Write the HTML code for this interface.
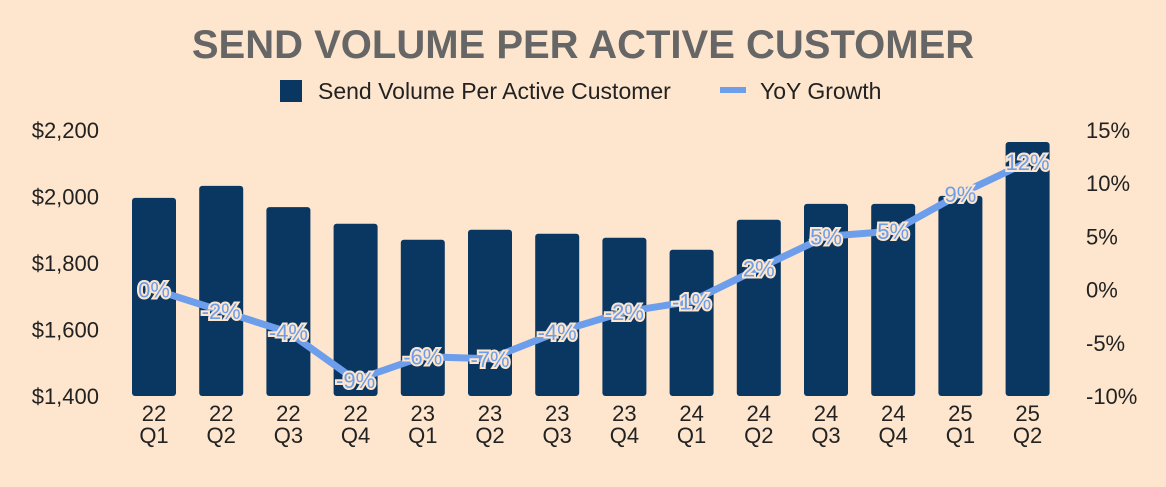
<!DOCTYPE html>
<html><head><meta charset="utf-8"><style>
body{margin:0;background:#fde6cd;font-family:"Liberation Sans",Arial,sans-serif;}
</style></head><body>
<svg width="1166" height="482" xmlns="http://www.w3.org/2000/svg" id="c">
<rect width="1166" height="482" fill="#fde6cd"/>
<text x="583" y="58" text-anchor="middle" font-size="40" font-weight="bold" fill="#666">SEND VOLUME PER ACTIVE CUSTOMER</text>
<g>
<rect x="280" y="80" width="22" height="22" fill="#0a3761"/>
<text x="318" y="99" font-size="23" fill="#222">Send Volume Per Active Customer</text>
<rect x="720" y="87" width="26" height="6" fill="#6d9eeb"/>
<text x="760" y="99" font-size="23" fill="#222">YoY Growth</text>
</g>
<g id="bars"></g><g id="axes"></g><g id="line"></g>
</svg>
<script>
const categories=["22 Q1","22 Q2","22 Q3","22 Q4","23 Q1","23 Q2","23 Q3","23 Q4","24 Q1","24 Q2","24 Q3","24 Q4","25 Q1","25 Q2"];
const volumes=[1996,2032,1968,1918,1870,1900,1888,1876,1840,1930,1978,1978,2002,2164];
const growth=[0,-2,-4,-8.5,-6.3,-6.5,-4,-2.1,-1.1,2,5,5.5,9,12];
const growthLabels=["0%","-2%","-4%","-9%","-6%","-7%","-4%","-2%","-1%","2%","5%","5%","9%","12%"];
const leftTicks=[1400,1600,1800,2000,2200];
const rightTicks=[-10,-5,0,5,10,15];
const NS="http://www.w3.org/2000/svg";
const yL=v=>396-(v-1400)*(266/800);
const yR=v=>396-(v+10)*(266/25);
const xC=i=>154+i*67.2;
function mk(t,a,p){const e=document.createElementNS(NS,t);for(const k in a)e.setAttribute(k,a[k]);p.appendChild(e);return e;}
const bars=document.getElementById('bars'),axes=document.getElementById('axes'),line=document.getElementById('line');
volumes.forEach((v,i)=>{const r=mk('rect',{x:xC(i)-22,y:yL(v),width:44,height:396-yL(v),rx:3,fill:'#0a3761'},bars);


const p=categories[i].split(' ');
const t=mk('text',{x:xC(i),y:421,'text-anchor':'middle','font-size':22,fill:'#222'},axes);


mk('tspan',{x:xC(i),dy:0},t).textContent=p[0];
mk('tspan',{x:xC(i),dy:22},t).textContent=p[1];});
leftTicks.forEach(v=>{const t=mk('text',{x:99,y:yL(v)+8,'text-anchor':'end','font-size':22,fill:'#222'},axes);


t.textContent='$'+v.toLocaleString('en-US');});
rightTicks.forEach(v=>{const t=mk('text',{x:1086,y:yR(v)+8,'font-size':22,fill:'#222'},axes);


t.textContent=v+'%';});
const pl=mk('polyline',{points:growth.map((g,i)=>xC(i)+','+yR(g)).join(' '),fill:'none',stroke:'#6d9eeb','stroke-width':7,'stroke-linejoin':'round'},line);


growth.forEach((g,i)=>{const t=mk('text',{x:xC(i),y:yR(g)+8,'text-anchor':'middle','font-size':22,fill:'#6d9eeb',stroke:'#fde6cd','stroke-width':4,'paint-order':'stroke'},line);


t.textContent=growthLabels[i];});
</script>
</body></html>
